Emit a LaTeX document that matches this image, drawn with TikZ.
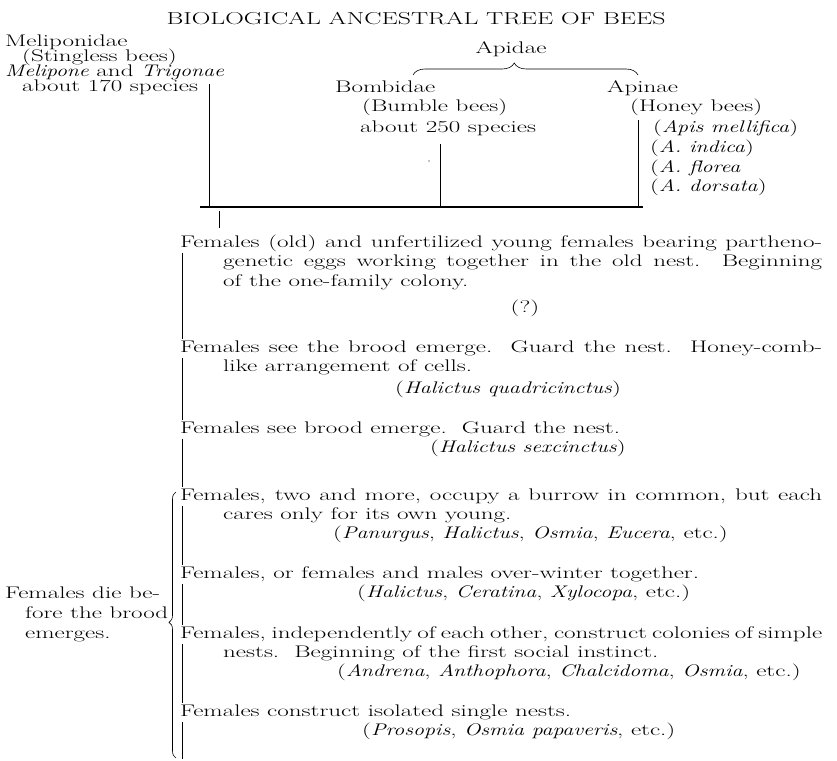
\documentclass[tikz,border=0pt]{standalone}
\usepackage{fontspec}
\setmainfont{Latin Modern Roman}[UprightFeatures={FakeStretch=1.49}, ItalicFeatures={FakeStretch=1.3}]
\usetikzlibrary{decorations.pathreplacing}

% rows of text with a fixed baseline distance, base = first row
\newcommand{\rows}[2]{\vtop{\baselineskip=#1\lineskiplimit=-\maxdimen\lineskip=0pt\halign{##\hfil\cr#2\crcr}}}
\newcommand{\fullline}[1]{\makebox[642pt][s]{#1}}
\newcommand{\hang}{\hspace*{43pt}}

\begin{document}
\begin{tikzpicture}[x=1pt, y=-1pt,
    txt/.style={inner sep=0pt, anchor=base west, font=\fontsize{16.8}{19.5}\selectfont},
    ctr/.style={txt, anchor=base},
    stem/.style={line width=0.9pt},
    bar/.style={line width=1.2pt},
    curly/.style={decorate, decoration={brace, amplitude=#1}, line width=0.6pt},
]
\useasboundingbox (0,0) rectangle (837,760);

% Title
\node[ctr, font=\fontsize{17.3}{20}\selectfont] (title) at (416,25)
    {BIOLOGICAL ANCESTRAL TREE OF BEES};

% Meliponidae
\node[txt] (melip) at (5,46) {\rows{15pt}{Meliponidae\cr
    \hspace*{17pt}(Stingless bees)\cr
    \textit{Melipone} and \textit{Trigonae}\cr
    \hspace*{17pt}about 170 species}};

% Apidae
\node[ctr] (apidae) at (511,53) {Apidae};
\coordinate (brw) at (413,75);
\coordinate (bre) at (638,75);
\draw[curly=12pt, decoration={aspect=0.45}] (brw) -- (bre);

\node[txt] (bomb) at (335,92) {\rows{20pt}{Bombidae\cr
    \hspace*{27pt}(Bumble bees)\cr
    \hspace*{25pt}about 250 species}};
\node[txt] (apin) at (607,92) {\rows{20pt}{Apinae\cr
    \hspace*{23pt}(Honey bees)\cr
    \hspace*{46pt}(\textit{Apis mellifica})\cr
    \hspace*{43pt}(\textit{A. indica})\cr
    \hspace*{43pt}(\textit{A. florea}\cr
    \hspace*{43pt}(\textit{A. dorsata})}};

% Stems and the joining bar
\coordinate (tm) at (209,84);
\coordinate (jm) at (209,207);
\coordinate (tb) at (440,144);
\coordinate (jb) at (440,207);
\coordinate (ta) at (638,120);
\coordinate (ja) at (638,207);
\coordinate (hw) at (200,207);
\coordinate (he) at (643,207);
\coordinate (root) at (219,211);

\draw[stem] (tm) -- (jm);
\draw[stem] (tb) -- (jb);
\draw[stem] (ta) -- (ja);
\draw[bar] (hw) -- (he);
\fill (429,161) circle (0.6pt);

% Stages
\node[txt] (st1) at (180,247) {\rows{19.5pt}{%
    \fullline{Females (old) and unfertilized young females bearing partheno-}\cr
    \hang\makebox[599pt][s]{genetic eggs working together in the old nest.\ \ Beginning}\cr
    \hang of the one-family colony.}};
\node[ctr] (sp1) at (525,312) {(?)};

\node[txt] (st2) at (180,352) {\rows{19.5pt}{%
    \fullline{Females see the brood emerge.\ \ Guard the nest.\ \ Honey-comb-}\cr
    \hang like arrangement of cells.}};
\node[txt] (sp2) at (395,393) {(\textit{Halictus quadricinctus})};

\node[txt] (st3) at (180,433) {Females see brood emerge.\ \ Guard the nest.};
\node[txt] (sp3) at (430,452) {(\textit{Halictus sexcinctus})};

\node[txt] (st4) at (180,500) {\rows{19pt}{%
    \fullline{Females, two and more, occupy a burrow in common, but each}\cr
    \hang cares only for its own young.}};
\node[txt] (sp4) at (333,538)
    {(\textit{Panurgus}, \textit{Halictus}, \textit{Osmia}, \textit{Eucera}, etc.)};

\node[txt] (st5) at (180,578) {Females, or females and males over-winter together.};
\node[txt] (sp5) at (357,597)
    {(\textit{Halictus}, \textit{Ceratina}, \textit{Xylocopa}, etc.)};

\node[txt] (st6) at (180,638) {\rows{19pt}{%
    \fullline{Females, independently of each other, construct colonies of simple}\cr
    \hang nests.\ \ Beginning of the first social instinct.}};
\node[txt] (sp6) at (337,676)
    {(\textit{Andrena}, \textit{Anthophora}, \textit{Chalcidoma}, \textit{Osmia}, etc.)};

\node[txt] (st7) at (180,716) {Females construct isolated single nests.};
\node[txt] (sp7) at (362,735) {(\textit{Prosopis}, \textit{Osmia papaveris}, etc.)};

% Main stem
\draw[stem] (root) -- ([xshift=39pt,yshift=19pt]st1.base west);
\draw[stem] ([xshift=2.5pt,yshift=-6pt]st1.base west) -- ([xshift=2.5pt,yshift=13pt]st2.base west);
\draw[stem] ([xshift=2.5pt,yshift=-6pt]st2.base west) -- ([xshift=2.5pt,yshift=13pt]st3.base west);
\draw[stem] ([xshift=2.5pt,yshift=-6pt]st3.base west) -- ([xshift=2.5pt,yshift=13pt]st4.base west);
\draw[stem] ([xshift=2.5pt,yshift=-6pt]st4.base west) -- ([xshift=2.5pt,yshift=13pt]st5.base west);
\draw[stem] ([xshift=2.5pt,yshift=-6pt]st5.base west) -- ([xshift=2.5pt,yshift=13pt]st6.base west);
\draw[stem] ([xshift=2.5pt,yshift=-6pt]st6.base west) -- ([xshift=2.5pt,yshift=13pt]st7.base west);
\coordinate (foot) at (182.5,759);
\draw[stem] ([xshift=2.5pt,yshift=-6pt]st7.base west) -- (foot);

% Solitary stages
\node[txt] (die) at (5,598) {\rows{20pt}{Females die be-\cr
    \hspace*{20pt}fore the brood\cr
    \hspace*{20pt}emerges.}};
\coordinate (bbot) at (176,758);
\coordinate (btop) at (176,492);
\draw[curly=7pt, decoration={aspect=0.51}] (bbot) -- (btop);

\end{tikzpicture}
\end{document}
